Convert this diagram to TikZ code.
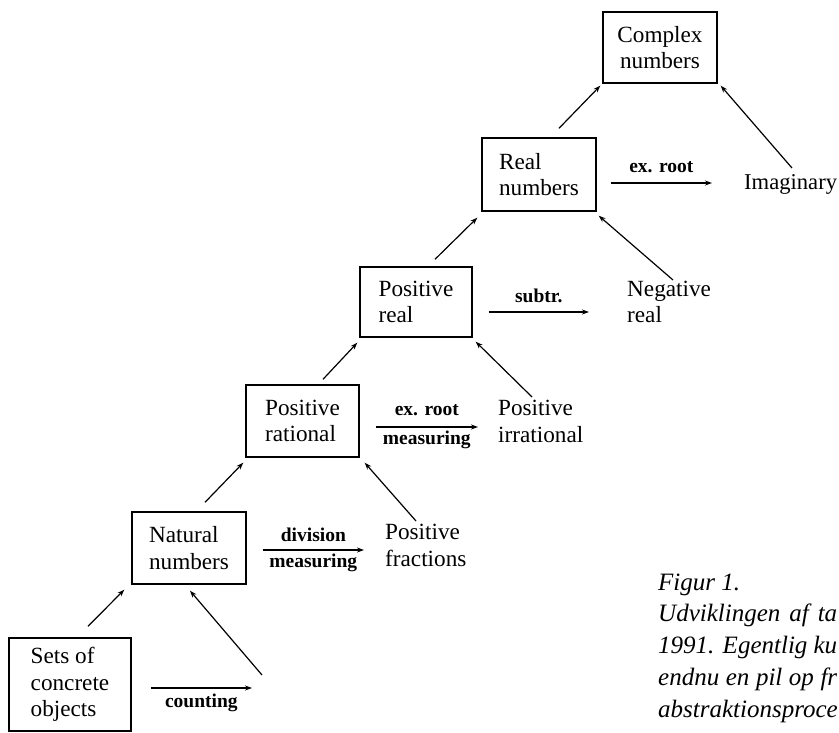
\documentclass[tikz,border=0pt]{standalone}
\usepackage{fontspec}
\setmainfont{Liberation Serif}
\usetikzlibrary{arrows.meta}
\begin{document}
\begin{tikzpicture}[x=1pt,y=-1pt,
  numbox/.style={draw, line width=1.4pt, inner sep=0pt, align=left,
    font=\fontsize{23.2}{26.5}\selectfont},
  plain/.style={inner sep=0pt, align=left, anchor=base west,
    font=\fontsize{23.2}{26.5}\selectfont},
  arr/.style={line width=1.2pt, -{Stealth[length=7pt,width=5pt]}},
  lbl/.style={font=\bfseries\fontsize{19.5}{22}\selectfont, inner sep=0pt, anchor=base},
  captxt/.style={inner sep=0pt, align=left, anchor=base west,
    font=\itshape\fontsize{25}{31.75}\selectfont}]
\useasboundingbox (0,0) rectangle (839,733);

% boxes
\node[numbox, align=center, minimum width=114pt, minimum height=71pt] (cplx) at (660,47.5) {Complex\\numbers};
\node[numbox, minimum width=114pt, minimum height=73pt] (real) at (539,174.5) {Real\\numbers};
\node[numbox, minimum width=112pt, minimum height=70pt] (preal) at (416,302) {Positive\\real};
\node[numbox, minimum width=113pt, minimum height=72pt] (rat) at (302.5,421) {Positive\\rational};
\node[numbox, minimum width=114pt, minimum height=72pt] (nat) at (189,548) {Natural\\numbers};
\node[numbox, minimum width=122pt, minimum height=93pt] (sets) at (70,684.5) {Sets of\\concrete\\objects};

% plain texts (base = baseline of the last line)
\node[plain, font=\fontsize{22.6}{26.5}\selectfont] (imag) at (744,190) {Imaginary};
\node[plain] (neg) at (627,323) {Negative\\real};
\node[plain] (irr) at (498,442) {Positive\\irrational};
\node[plain] (frac) at (385,566) {Positive\\fractions};

\coordinate (c0) at (262,675);
\coordinate (cnt) at (252,688);

% horizontal arrows
\draw[arr] ([shift={(19,3.5)}]sets.east) -- node[lbl, yshift=-19pt] {counting} (cnt);
\draw[arr] ([shift={(16,2)}]nat.east) -- node[lbl, yshift=9pt] {division} node[lbl, yshift=-17pt] {measuring} ([shift={(-21,-16)}]frac.base west);
\draw[arr] ([shift={(16,6)}]rat.east) -- node[lbl, yshift=12pt] {ex. root} node[lbl, yshift=-17pt] {measuring} ([shift={(-20,-15)}]irr.base west);
\draw[arr] ([shift={(16,10)}]preal.east) -- node[lbl, yshift=10pt] {subtr.} ([shift={(-38,-11)}]neg.base west);
\draw[arr] ([shift={(14,8.5)}]real.east) -- node[lbl, yshift=10pt] {ex. root} ([shift={(-32,-7)}]imag.base west);

% diagonal arrows
\draw[arr] ([shift={(18,-11)}]sets.north) -- ([shift={(-7,5)}]nat.south west);
\draw[arr] (c0) -- ([shift={(1,6)}]nat.south);
\draw[arr] ([shift={(16,-9)}]nat.north) -- ([shift={(-2,5)}]rat.south west);
\draw[arr] ([shift={(31,-45)}]frac.base west) -- ([shift={(5,5)}]rat.south east);
\draw[arr] ([shift={(20.5,-5)}]rat.north) -- ([shift={(-2,5)}]preal.south west);
\draw[arr] ([shift={(34,-45)}]irr.base west) -- ([shift={(3,4)}]preal.south east);
\draw[arr] ([shift={(19,-7)}]preal.north) -- ([shift={(-4,6)}]real.south west);
\draw[arr] ([shift={(46,-43)}]neg.base west) -- ([shift={(2,4)}]real.south east);
\draw[arr] ([shift={(20,-9)}]real.north) -- ([shift={(-2,2)}]cplx.south west);
\draw[arr] ([shift={(48,-22)}]imag.base west) -- ([shift={(3,2)}]cplx.south east);

% caption (justified column)
\node[captxt] (cap) at (658,717) {Figur 1.\\\makebox[179pt][s]{Udviklingen af ta}\\\makebox[179pt][s]{1991. Egentlig ku}\\\makebox[179pt][s]{endnu en pil op fr}\\abstraktionsproce};
\end{tikzpicture}
\end{document}
